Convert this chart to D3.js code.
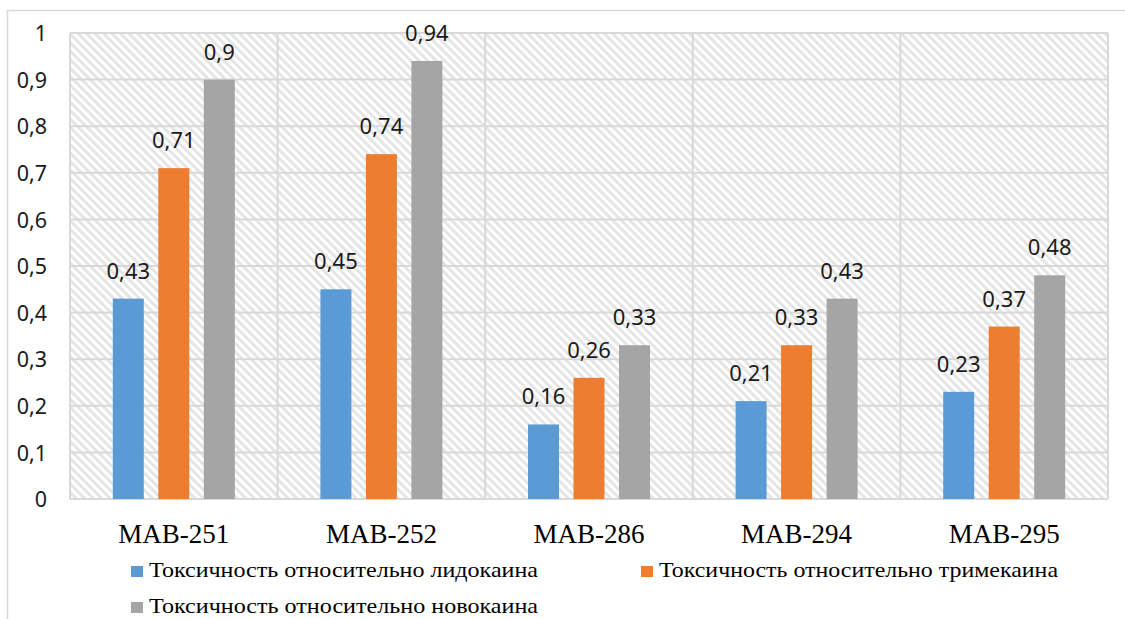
<!DOCTYPE html>
<html>
<head>
<meta charset="utf-8">
<script src="https://cdn.jsdelivr.net/npm/d3@7"></script>
<style>
  html, body { margin: 0; padding: 0; background: #fff; }
  svg { display: block; }
</style>
</head>
<body>
<svg id="chart" width="1125" height="619"></svg>
<script>
// Chart data
const categories = ["MAB-251", "MAB-252", "MAB-286", "MAB-294", "MAB-295"];
const seriesNames = [
  "Токсичность относительно лидокаина",
  "Токсичность относительно тримекаина",
  "Токсичность относительно новокаина"
];
const lidocaine = [0.43, 0.45, 0.16, 0.21, 0.23];
const trimecaine = [0.71, 0.74, 0.26, 0.33, 0.37];
const novocaine = [0.9, 0.94, 0.33, 0.43, 0.48];
const yTicks = [0, 0.1, 0.2, 0.3, 0.4, 0.5, 0.6, 0.7, 0.8, 0.9, 1];
const colors = ["#5b9bd5", "#ed7d31", "#a5a5a5"];

const seriesValues = [lidocaine, trimecaine, novocaine];

const svg = d3.select("#chart");
const plot = { left: 70, right: 1108, top: 33, bottom: 499 };
const gridColor = "#d9d9d9";
const serif = "'Liberation Serif', 'DejaVu Serif', 'Times New Roman', serif";
const fmt = v => String(+v.toFixed(2)).replace(".", ",");

// Diagonal hatch fill for the plot area
const defs = svg.append("defs");
const pat = defs.append("pattern")
  .attr("id", "hatch")
  .attr("patternUnits", "userSpaceOnUse")
  .attr("width", 6).attr("height", 6)
  .attr("patternTransform", "rotate(-45)");
pat.append("rect").attr("width", 6).attr("height", 6).attr("fill", "#ffffff");
pat.append("rect").attr("width", 3).attr("height", 6).attr("fill", "#e5e5e5");

// Outer chart frame
svg.append("rect")
  .attr("x", 7.5).attr("y", 10.5)
  .attr("width", 1130).attr("height", 620)
  .attr("fill", "none").attr("stroke", gridColor).attr("stroke-width", 1.5);

// Scales
const x0 = d3.scaleBand().domain(categories).range([plot.left, plot.right]).padding(0);
const x1 = d3.scaleBand().domain(d3.range(seriesNames.length))
  .range([0, x0.bandwidth()]).paddingInner(0.319).paddingOuter(0.941);
const y = d3.scaleLinear().domain([0, 1]).range([plot.bottom, plot.top]);

svg.append("rect")
  .attr("x", plot.left).attr("y", plot.top)
  .attr("width", plot.right - plot.left).attr("height", plot.bottom - plot.top)
  .attr("fill", "url(#hatch)");

// Gridlines
const grid = svg.append("g").attr("stroke", gridColor).attr("stroke-width", 2);
grid.selectAll("line.h").data(yTicks).join("line")
  .attr("x1", plot.left).attr("x2", plot.right)
  .attr("y1", d => y(d)).attr("y2", d => y(d));
const bounds = categories.map(c => x0(c)).concat([x0(categories[categories.length - 1]) + x0.bandwidth()]);
grid.selectAll("line.v").data(bounds).join("line")
  .attr("x1", d => d).attr("x2", d => d)
  .attr("y1", plot.top).attr("y2", plot.bottom);

// Y axis labels
const yAxis = d3.axisLeft(y).tickValues(yTicks).tickFormat(fmt).tickSize(0).tickPadding(0);
const yg = svg.append("g").attr("transform", `translate(47,0)`).call(yAxis);
yg.select(".domain").remove();
yg.selectAll("text")
  .attr("font-family", "'Noto Sans', sans-serif")
  .attr("font-size", 21.5)
  .attr("fill", "#1a1a1a")
  .attr("dy", "0.36em");

// Bars and value labels
const groups = svg.append("g").selectAll("g").data(categories).join("g")
  .attr("transform", d => `translate(${x0(d)},0)`);
groups.selectAll("rect")
  .data((c, i) => seriesValues.map((s, k) => ({ k, v: s[i] })))
  .join("rect")
  .attr("x", d => x1(d.k))
  .attr("width", x1.bandwidth())
  .attr("y", d => y(d.v))
  .attr("height", d => y(0) - y(d.v))
  .attr("fill", d => colors[d.k]);
groups.selectAll("text")
  .data((c, i) => seriesValues.map((s, k) => ({ k, v: s[i] })))
  .join("text")
  .attr("x", d => x1(d.k) + x1.bandwidth() / 2)
  .attr("y", d => y(d.v) - 20)
  .attr("text-anchor", "middle")
  .attr("font-family", "'Noto Sans', sans-serif")
  .attr("font-size", 22)
  .attr("fill", "#1a1a1a")
  .text(d => fmt(d.v));

// Category axis labels
const xAxis = d3.axisBottom(x0).tickSize(0).tickPadding(0);
const xg = svg.append("g").attr("transform", `translate(0,${plot.bottom})`).call(xAxis);
xg.select(".domain").remove();
xg.selectAll("text")
  .attr("font-family", serif)
  .attr("font-size", 27)
  .attr("fill", "#000")
  .attr("y", 44)
  .attr("dy", 0);

// Legend
const legendPos = [[131, 577], [641, 577], [131, 613]];
const legendWidths = [389, 399, 389];
const legend = svg.append("g").selectAll("g").data(seriesNames).join("g")
  .attr("transform", (d, i) => `translate(${legendPos[i][0]},${legendPos[i][1]})`);
legend.append("rect")
  .attr("x", 0).attr("y", -11).attr("width", 12).attr("height", 11)
  .attr("fill", (d, i) => colors[i]);
legend.append("text")
  .attr("x", 18).attr("y", 0)
  .attr("font-family", serif)
  .attr("font-size", 21)
  .attr("fill", "#000")
  .attr("textLength", (d, i) => legendWidths[i])
  .attr("lengthAdjust", "spacingAndGlyphs")
  .text(d => d);
</script>
</body>
</html>
